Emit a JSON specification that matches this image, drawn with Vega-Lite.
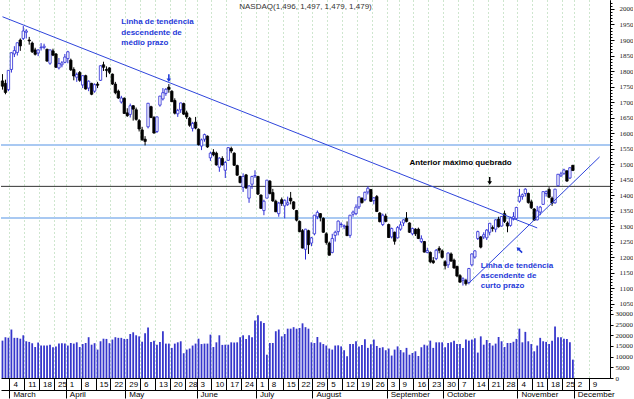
{
"$schema": "https://vega.github.io/schema/vega-lite/v6.json",
"width": 609, "height": 378, "padding": 0, "background": "white",
"config": {"view": {"stroke": null}, "font": "Liberation Sans", "axis": {"labelOverlap": false, "labelFlush": false, "labelSeparation": 0}},
"title": {"text": "NASDAQ(1,496, 1,497, 1,479, 1,479)", "fontSize": 8, "fontWeight": "normal", "color": "#333", "offset": -11, "anchor": "middle", "frame": "group"},
"datasets": {
"px": [
{"d":"2002-02-27","o":1768,"h":1790,"l":1740,"c":1751,"v":17500},
{"d":"2002-02-28","o":1760,"h":1772,"l":1725,"c":1731,"v":19100},
{"d":"2002-03-01","o":1740,"h":1803,"l":1735,"c":1802,"v":18800},
{"d":"2002-03-04","o":1805,"h":1860,"l":1795,"c":1859,"v":22700},
{"d":"2002-03-05","o":1855,"h":1880,"l":1845,"c":1866,"v":18800},
{"d":"2002-03-06","o":1860,"h":1892,"l":1850,"c":1891,"v":18800},
{"d":"2002-03-07","o":1900,"h":1905,"l":1865,"c":1881,"v":18400},
{"d":"2002-03-08","o":1905,"h":1945,"l":1900,"c":1929,"v":20000},
{"d":"2002-03-11","o":1925,"h":1935,"l":1905,"c":1929,"v":17200},
{"d":"2002-03-12","o":1900,"h":1910,"l":1885,"c":1897,"v":16900},
{"d":"2002-03-13","o":1890,"h":1895,"l":1858,"c":1862,"v":16300},
{"d":"2002-03-14","o":1868,"h":1875,"l":1850,"c":1854,"v":14500},
{"d":"2002-03-15","o":1858,"h":1870,"l":1848,"c":1868,"v":16600},
{"d":"2002-03-18","o":1875,"h":1890,"l":1866,"c":1877,"v":15200},
{"d":"2002-03-19","o":1876,"h":1888,"l":1870,"c":1880,"v":15200},
{"d":"2002-03-20","o":1870,"h":1872,"l":1830,"c":1832,"v":15200},
{"d":"2002-03-21","o":1825,"h":1870,"l":1820,"c":1868,"v":15600},
{"d":"2002-03-22","o":1865,"h":1872,"l":1848,"c":1851,"v":14400},
{"d":"2002-03-25","o":1855,"h":1858,"l":1810,"c":1812,"v":14800},
{"d":"2002-03-26","o":1810,"h":1842,"l":1805,"c":1824,"v":16100},
{"d":"2002-03-27","o":1820,"h":1832,"l":1812,"c":1826,"v":16300},
{"d":"2002-03-28","o":1828,"h":1855,"l":1825,"c":1845,"v":16100},
{"d":"2002-04-01","o":1840,"h":1865,"l":1825,"c":1862,"v":15200},
{"d":"2002-04-02","o":1835,"h":1840,"l":1800,"c":1804,"v":16400},
{"d":"2002-04-03","o":1805,"h":1812,"l":1770,"c":1784,"v":16100},
{"d":"2002-04-04","o":1780,"h":1795,"l":1765,"c":1789,"v":16700},
{"d":"2002-04-05","o":1795,"h":1800,"l":1765,"c":1770,"v":14500},
{"d":"2002-04-08","o":1755,"h":1786,"l":1745,"c":1785,"v":15900},
{"d":"2002-04-09","o":1785,"h":1788,"l":1740,"c":1742,"v":16400},
{"d":"2002-04-10","o":1745,"h":1770,"l":1735,"c":1767,"v":19100},
{"d":"2002-04-11","o":1760,"h":1762,"l":1722,"c":1725,"v":15600},
{"d":"2002-04-12","o":1735,"h":1760,"l":1730,"c":1756,"v":16300},
{"d":"2002-04-15","o":1758,"h":1765,"l":1745,"c":1754,"v":13300},
{"d":"2002-04-16","o":1770,"h":1818,"l":1768,"c":1817,"v":17200},
{"d":"2002-04-17","o":1820,"h":1830,"l":1800,"c":1812,"v":18400},
{"d":"2002-04-18","o":1805,"h":1815,"l":1780,"c":1802,"v":18300},
{"d":"2002-04-19","o":1810,"h":1812,"l":1790,"c":1796,"v":16300},
{"d":"2002-04-22","o":1790,"h":1792,"l":1755,"c":1758,"v":18000},
{"d":"2002-04-23","o":1758,"h":1765,"l":1725,"c":1730,"v":19100},
{"d":"2002-04-24","o":1735,"h":1740,"l":1710,"c":1713,"v":18800},
{"d":"2002-04-25","o":1700,"h":1720,"l":1695,"c":1713,"v":18800},
{"d":"2002-04-26","o":1712,"h":1715,"l":1662,"c":1663,"v":18300},
{"d":"2002-04-29","o":1665,"h":1680,"l":1652,"c":1656,"v":18300},
{"d":"2002-04-30","o":1660,"h":1695,"l":1650,"c":1688,"v":20600},
{"d":"2002-05-01","o":1688,"h":1690,"l":1640,"c":1677,"v":21400},
{"d":"2002-05-02","o":1675,"h":1682,"l":1640,"c":1644,"v":20000},
{"d":"2002-05-03","o":1640,"h":1645,"l":1605,"c":1613,"v":19500},
{"d":"2002-05-06","o":1610,"h":1620,"l":1575,"c":1578,"v":17000},
{"d":"2002-05-07","o":1580,"h":1590,"l":1560,"c":1573,"v":20900},
{"d":"2002-05-08","o":1620,"h":1697,"l":1615,"c":1696,"v":23600},
{"d":"2002-05-09","o":1685,"h":1688,"l":1648,"c":1650,"v":16900},
{"d":"2002-05-10","o":1650,"h":1655,"l":1598,"c":1600,"v":17500},
{"d":"2002-05-13","o":1605,"h":1653,"l":1600,"c":1652,"v":15600},
{"d":"2002-05-14","o":1690,"h":1720,"l":1685,"c":1719,"v":16900},
{"d":"2002-05-15","o":1710,"h":1745,"l":1705,"c":1730,"v":21900},
{"d":"2002-05-16","o":1728,"h":1745,"l":1720,"c":1741,"v":16100},
{"d":"2002-05-17","o":1748,"h":1758,"l":1730,"c":1741,"v":16100},
{"d":"2002-05-20","o":1735,"h":1738,"l":1700,"c":1701,"v":14100},
{"d":"2002-05-21","o":1705,"h":1712,"l":1660,"c":1664,"v":16100},
{"d":"2002-05-22","o":1662,"h":1678,"l":1652,"c":1673,"v":16700},
{"d":"2002-05-23","o":1675,"h":1698,"l":1665,"c":1697,"v":17200},
{"d":"2002-05-24","o":1695,"h":1698,"l":1658,"c":1661,"v":11600},
{"d":"2002-05-28","o":1665,"h":1672,"l":1645,"c":1652,"v":13300},
{"d":"2002-05-29","o":1648,"h":1652,"l":1620,"c":1625,"v":13800},
{"d":"2002-05-30","o":1615,"h":1636,"l":1605,"c":1631,"v":15200},
{"d":"2002-05-31","o":1635,"h":1652,"l":1612,"c":1616,"v":16100},
{"d":"2002-06-03","o":1612,"h":1615,"l":1560,"c":1562,"v":18400},
{"d":"2002-06-04","o":1558,"h":1582,"l":1545,"c":1578,"v":15900},
{"d":"2002-06-05","o":1580,"h":1598,"l":1572,"c":1595,"v":16100},
{"d":"2002-06-06","o":1590,"h":1592,"l":1552,"c":1555,"v":16100},
{"d":"2002-06-07","o":1520,"h":1540,"l":1510,"c":1535,"v":20300},
{"d":"2002-06-10","o":1538,"h":1548,"l":1525,"c":1530,"v":14500},
{"d":"2002-06-11","o":1535,"h":1540,"l":1495,"c":1497,"v":16700},
{"d":"2002-06-12","o":1490,"h":1522,"l":1475,"c":1519,"v":20000},
{"d":"2002-06-13","o":1518,"h":1525,"l":1495,"c":1497,"v":15500},
{"d":"2002-06-14","o":1480,"h":1510,"l":1455,"c":1505,"v":15600},
{"d":"2002-06-17","o":1512,"h":1554,"l":1510,"c":1553,"v":15600},
{"d":"2002-06-18","o":1550,"h":1556,"l":1535,"c":1542,"v":16700},
{"d":"2002-06-19","o":1535,"h":1538,"l":1494,"c":1496,"v":16600},
{"d":"2002-06-20","o":1495,"h":1498,"l":1462,"c":1464,"v":16700},
{"d":"2002-06-21","o":1460,"h":1462,"l":1438,"c":1440,"v":19100},
{"d":"2002-06-24","o":1425,"h":1470,"l":1410,"c":1460,"v":20000},
{"d":"2002-06-25","o":1465,"h":1468,"l":1420,"c":1423,"v":18300},
{"d":"2002-06-26","o":1390,"h":1432,"l":1375,"c":1429,"v":20000},
{"d":"2002-06-27","o":1435,"h":1462,"l":1420,"c":1460,"v":19100},
{"d":"2002-06-28","o":1462,"h":1480,"l":1455,"c":1463,"v":26900},
{"d":"2002-07-01","o":1460,"h":1462,"l":1400,"c":1403,"v":29400},
{"d":"2002-07-02","o":1400,"h":1402,"l":1355,"c":1357,"v":26600},
{"d":"2002-07-03","o":1350,"h":1385,"l":1335,"c":1380,"v":25800},
{"d":"2002-07-05","o":1390,"h":1449,"l":1390,"c":1448,"v":10900},
{"d":"2002-07-08","o":1445,"h":1448,"l":1402,"c":1405,"v":16400},
{"d":"2002-07-09","o":1408,"h":1420,"l":1378,"c":1381,"v":16400},
{"d":"2002-07-10","o":1380,"h":1385,"l":1345,"c":1346,"v":21900},
{"d":"2002-07-11","o":1340,"h":1378,"l":1330,"c":1374,"v":22700},
{"d":"2002-07-12","o":1385,"h":1392,"l":1365,"c":1373,"v":19500},
{"d":"2002-07-15","o":1365,"h":1386,"l":1325,"c":1383,"v":20600},
{"d":"2002-07-16","o":1370,"h":1395,"l":1365,"c":1375,"v":23100},
{"d":"2002-07-17","o":1390,"h":1410,"l":1370,"c":1381,"v":23100},
{"d":"2002-07-18","o":1378,"h":1380,"l":1352,"c":1356,"v":23800},
{"d":"2002-07-19","o":1350,"h":1352,"l":1315,"c":1319,"v":23100},
{"d":"2002-07-22","o":1315,"h":1318,"l":1280,"c":1282,"v":23400},
{"d":"2002-07-23","o":1285,"h":1290,"l":1228,"c":1229,"v":25600},
{"d":"2002-07-24","o":1225,"h":1291,"l":1192,"c":1290,"v":23800},
{"d":"2002-07-25","o":1285,"h":1288,"l":1210,"c":1240,"v":23100},
{"d":"2002-07-26","o":1245,"h":1265,"l":1235,"c":1262,"v":16700},
{"d":"2002-07-29","o":1275,"h":1336,"l":1270,"c":1335,"v":16400},
{"d":"2002-07-30","o":1330,"h":1350,"l":1322,"c":1344,"v":19200},
{"d":"2002-07-31","o":1340,"h":1342,"l":1315,"c":1328,"v":16700},
{"d":"2002-08-01","o":1325,"h":1328,"l":1278,"c":1280,"v":15900},
{"d":"2002-08-02","o":1275,"h":1280,"l":1240,"c":1247,"v":15200},
{"d":"2002-08-05","o":1245,"h":1250,"l":1205,"c":1206,"v":13800},
{"d":"2002-08-06","o":1215,"h":1275,"l":1212,"c":1260,"v":13300},
{"d":"2002-08-07","o":1270,"h":1285,"l":1250,"c":1280,"v":15200},
{"d":"2002-08-08","o":1282,"h":1318,"l":1270,"c":1316,"v":15300},
{"d":"2002-08-09","o":1305,"h":1312,"l":1295,"c":1306,"v":14800},
{"d":"2002-08-12","o":1298,"h":1305,"l":1290,"c":1301,"v":13000},
{"d":"2002-08-13","o":1300,"h":1315,"l":1268,"c":1269,"v":10200},
{"d":"2002-08-14","o":1270,"h":1336,"l":1262,"c":1335,"v":15900},
{"d":"2002-08-15","o":1338,"h":1350,"l":1330,"c":1345,"v":15900},
{"d":"2002-08-16","o":1340,"h":1370,"l":1335,"c":1361,"v":17200},
{"d":"2002-08-19","o":1362,"h":1395,"l":1355,"c":1394,"v":14800},
{"d":"2002-08-20","o":1390,"h":1392,"l":1372,"c":1376,"v":15500},
{"d":"2002-08-21","o":1385,"h":1411,"l":1380,"c":1409,"v":18100},
{"d":"2002-08-22","o":1410,"h":1428,"l":1402,"c":1422,"v":14100},
{"d":"2002-08-23","o":1418,"h":1418,"l":1378,"c":1380,"v":15800},
{"d":"2002-08-26","o":1382,"h":1393,"l":1370,"c":1391,"v":18000},
{"d":"2002-08-27","o":1395,"h":1400,"l":1345,"c":1347,"v":15000},
{"d":"2002-08-28","o":1342,"h":1345,"l":1312,"c":1314,"v":14100},
{"d":"2002-08-29","o":1305,"h":1340,"l":1300,"c":1335,"v":14400},
{"d":"2002-08-30","o":1332,"h":1340,"l":1312,"c":1315,"v":13000},
{"d":"2002-09-03","o":1305,"h":1308,"l":1262,"c":1263,"v":13800},
{"d":"2002-09-04","o":1265,"h":1295,"l":1260,"c":1292,"v":10500},
{"d":"2002-09-05","o":1280,"h":1282,"l":1240,"c":1251,"v":13300},
{"d":"2002-09-06","o":1262,"h":1300,"l":1260,"c":1295,"v":14800},
{"d":"2002-09-09","o":1290,"h":1315,"l":1285,"c":1304,"v":13100},
{"d":"2002-09-10","o":1310,"h":1322,"l":1300,"c":1320,"v":12000},
{"d":"2002-09-11","o":1325,"h":1345,"l":1312,"c":1315,"v":14100},
{"d":"2002-09-12","o":1310,"h":1312,"l":1278,"c":1280,"v":10900},
{"d":"2002-09-13","o":1275,"h":1295,"l":1270,"c":1292,"v":11700},
{"d":"2002-09-16","o":1290,"h":1293,"l":1268,"c":1275,"v":12500},
{"d":"2002-09-17","o":1290,"h":1295,"l":1258,"c":1260,"v":10300},
{"d":"2002-09-18","o":1250,"h":1270,"l":1245,"c":1259,"v":14400},
{"d":"2002-09-19","o":1250,"h":1252,"l":1215,"c":1216,"v":15600},
{"d":"2002-09-20","o":1215,"h":1230,"l":1212,"c":1221,"v":15200},
{"d":"2002-09-23","o":1215,"h":1218,"l":1180,"c":1185,"v":17500},
{"d":"2002-09-24","o":1188,"h":1200,"l":1178,"c":1182,"v":14100},
{"d":"2002-09-25","o":1195,"h":1226,"l":1190,"c":1222,"v":16700},
{"d":"2002-09-26","o":1228,"h":1235,"l":1212,"c":1222,"v":16700},
{"d":"2002-09-27","o":1220,"h":1225,"l":1195,"c":1199,"v":16700},
{"d":"2002-09-30","o":1185,"h":1190,"l":1160,"c":1172,"v":14400},
{"d":"2002-10-01","o":1175,"h":1215,"l":1165,"c":1213,"v":16400},
{"d":"2002-10-02","o":1210,"h":1215,"l":1185,"c":1187,"v":16700},
{"d":"2002-10-03","o":1190,"h":1195,"l":1162,"c":1165,"v":17500},
{"d":"2002-10-04","o":1170,"h":1172,"l":1135,"c":1139,"v":15900},
{"d":"2002-10-07","o":1140,"h":1145,"l":1118,"c":1119,"v":15900},
{"d":"2002-10-08","o":1125,"h":1135,"l":1108,"c":1130,"v":14100},
{"d":"2002-10-09","o":1125,"h":1130,"l":1108,"c":1114,"v":18000},
{"d":"2002-10-10","o":1118,"h":1165,"l":1112,"c":1163,"v":17500},
{"d":"2002-10-11","o":1175,"h":1212,"l":1170,"c":1210,"v":18000},
{"d":"2002-10-14","o":1200,"h":1222,"l":1195,"c":1220,"v":18600},
{"d":"2002-10-15","o":1260,"h":1285,"l":1255,"c":1282,"v":11900},
{"d":"2002-10-16","o":1265,"h":1268,"l":1228,"c":1232,"v":19500},
{"d":"2002-10-17","o":1265,"h":1280,"l":1258,"c":1272,"v":15600},
{"d":"2002-10-18","o":1262,"h":1290,"l":1255,"c":1287,"v":17800},
{"d":"2002-10-21","o":1280,"h":1310,"l":1270,"c":1309,"v":16400},
{"d":"2002-10-22","o":1295,"h":1302,"l":1282,"c":1292,"v":15200},
{"d":"2002-10-23","o":1290,"h":1322,"l":1280,"c":1320,"v":16100},
{"d":"2002-10-24","o":1322,"h":1330,"l":1295,"c":1298,"v":19200},
{"d":"2002-10-25","o":1300,"h":1332,"l":1298,"c":1331,"v":17200},
{"d":"2002-10-28","o":1340,"h":1350,"l":1310,"c":1315,"v":14500},
{"d":"2002-10-29","o":1310,"h":1315,"l":1280,"c":1300,"v":16400},
{"d":"2002-10-30","o":1302,"h":1330,"l":1298,"c":1326,"v":16400},
{"d":"2002-10-31","o":1322,"h":1345,"l":1318,"c":1330,"v":17000},
{"d":"2002-11-01","o":1325,"h":1362,"l":1320,"c":1360,"v":18300},
{"d":"2002-11-04","o":1380,"h":1420,"l":1375,"c":1396,"v":23100},
{"d":"2002-11-05","o":1395,"h":1405,"l":1385,"c":1401,"v":16700},
{"d":"2002-11-06","o":1405,"h":1422,"l":1395,"c":1419,"v":21600},
{"d":"2002-11-07","o":1405,"h":1408,"l":1372,"c":1376,"v":17200},
{"d":"2002-11-08","o":1378,"h":1385,"l":1355,"c":1359,"v":15900},
{"d":"2002-11-11","o":1355,"h":1358,"l":1318,"c":1319,"v":12500},
{"d":"2002-11-12","o":1320,"h":1365,"l":1318,"c":1349,"v":15200},
{"d":"2002-11-13","o":1345,"h":1365,"l":1335,"c":1361,"v":18800},
{"d":"2002-11-14","o":1370,"h":1412,"l":1368,"c":1411,"v":17200},
{"d":"2002-11-15","o":1405,"h":1415,"l":1395,"c":1411,"v":16900},
{"d":"2002-11-18","o":1418,"h":1425,"l":1390,"c":1393,"v":15900},
{"d":"2002-11-19","o":1390,"h":1395,"l":1365,"c":1374,"v":17500},
{"d":"2002-11-20","o":1375,"h":1420,"l":1372,"c":1419,"v":24100},
{"d":"2002-11-21","o":1430,"h":1468,"l":1428,"c":1467,"v":19100},
{"d":"2002-11-22","o":1462,"h":1475,"l":1458,"c":1468,"v":19100},
{"d":"2002-11-25","o":1470,"h":1485,"l":1465,"c":1481,"v":18400},
{"d":"2002-11-26","o":1478,"h":1480,"l":1443,"c":1445,"v":18300},
{"d":"2002-11-27","o":1455,"h":1490,"l":1452,"c":1488,"v":16700},
{"d":"2002-11-29","o":1496,"h":1497,"l":1479,"c":1479,"v":8600}
],
"levels": [{"p":1561,"t":"resistance"},{"p":1428,"t":"previous high"},{"p":1326,"t":"support"}],
"trend": [
{"id":"desc","d":"2002-02-27","p":1975},{"id":"desc","d":"2002-11-12","p":1294},
{"id":"asc","d":"2002-10-10","p":1116},{"id":"asc","d":"2002-12-12","p":1523}
],
"blueText": [
{"d":"2002-04-25","p":1959,"t":"Linha de tendência"},
{"d":"2002-04-25","p":1923,"t":"descendente de"},
{"d":"2002-04-25","p":1889,"t":"médio prazo"},
{"d":"2002-10-16","p":1171,"t":"Linha de tendência"},
{"d":"2002-10-16","p":1139,"t":"ascendente de"},
{"d":"2002-10-16","p":1107,"t":"curto prazo"}
],
"blackText": [{"d":"2002-09-12","p":1504,"t":"Anterior máximo quebrado"}]
},
"layer": [
{"layer": [
 {"data": {"name": "levels"}, "mark": {"type": "rule"},
  "encoding": {
   "y": {"field": "p", "type": "quantitative", "scale": {"domain": [810, 2029]},
    "axis": {"orient": "right", "values": [1050,1100,1150,1200,1250,1300,1350,1400,1450,1500,1550,1600,1650,1700,1750,1800,1850,1900,1950,2000], "tickCount": 200, "format": "d", "title": null, "grid": false, "tickSize": 4, "tickColor": "#000", "domainColor": "#000", "labelPadding": 5, "labelFontSize": 7, "labelColor": "#222", "labelFont": "Liberation Sans Narrow", "labelOverlap": false, "labelFlush": false}},
   "color": {"condition": {"test": "datum.t === 'previous high'", "value": "#333333"}, "value": "#a9c9f2"},
   "strokeWidth": {"condition": {"test": "datum.t === 'previous high'", "value": 1}, "value": 2}
  }},
 {"data": {"name": "px"}, "mark": {"type": "rule", "strokeWidth": 1},
  "encoding": {
   "x": {"field": "d", "type": "ordinal", "scale": {"type": "band", "paddingInner": 0, "paddingOuter": 0, "domain": {"unionWith": ["2002-12-02","2002-12-03","2002-12-04","2002-12-05","2002-12-06","2002-12-09","2002-12-10","2002-12-11","2002-12-12","2002-12-13","2002-12-16","2002-12-17"]}},
    "axis": {"orient": "bottom", "offset": 12, "values": ["2002-03-04","2002-04-01","2002-04-29","2002-06-03","2002-07-01","2002-07-29","2002-09-03","2002-09-30","2002-11-04","2002-12-02"], "bandPosition": 0, "labelExpr": "utcFormat(time(toDate(datum.value)) + 6*86400000, '%B')", "title": null, "grid": false, "tickSize": 8, "tickColor": "#000", "domainColor": "#000", "labelAngle": 0, "labelAlign": "left", "labelBaseline": "top", "labelPadding": -8, "labelOffset": 2, "labelFontSize": 8, "labelColor": "#000", "labelFlush": false, "labelOverlap": false}},
   "y": {"field": "l", "type": "quantitative", "scale": {"domain": [810, 2029]}},
   "y2": {"field": "h"},
   "color": {"condition": {"test": "datum.c >= datum.o", "value": "#2b2bd6"}, "value": "#000000"}
  }},
 {"data": {"name": "px"}, "mark": {"type": "bar", "width": {"band": 0.8}, "strokeWidth": 0.8},
  "encoding": {
   "x": {"field": "d", "type": "ordinal"},
   "y": {"field": "o", "type": "quantitative", "scale": {"domain": [810, 2029]}},
   "y2": {"field": "c"},
   "fill": {"condition": {"test": "datum.c >= datum.o", "value": "#ffffff"}, "value": "#000000"},
   "stroke": {"condition": {"test": "datum.c >= datum.o", "value": "#2b2bd6"}, "value": "#000000"}
  }},
 {"data": {"name": "trend"}, "mark": {"type": "line", "color": "#2f45dc", "strokeWidth": 1},
  "encoding": {
   "x": {"field": "d", "type": "ordinal"},
   "y": {"field": "p", "type": "quantitative", "scale": {"domain": [810, 2029]}},
   "detail": {"field": "id"}
  }},
 {"data": {"name": "blueText"}, "mark": {"type": "text", "align": "left", "baseline": "middle", "fontWeight": "bold", "fontSize": 8, "color": "#1f3ad8"},
  "encoding": {
   "x": {"field": "d", "type": "ordinal"},
   "y": {"field": "p", "type": "quantitative", "scale": {"domain": [810, 2029]}},
   "text": {"field": "t"}
  }},
 {"data": {"name": "blackText"}, "mark": {"type": "text", "align": "left", "baseline": "middle", "fontWeight": "bold", "fontSize": 8, "color": "#000"},
  "encoding": {
   "x": {"field": "d", "type": "ordinal"},
   "y": {"field": "p", "type": "quantitative", "scale": {"domain": [810, 2029]}},
   "text": {"field": "t"}
  }},
 {"data": {"values": [{"d": "2002-05-17", "p": 1777}]}, "mark": {"type": "point", "shape": "M-0.2,-1L0.2,-1L0.2,0.1L0.6,0.1L0,1L-0.6,0.1L-0.2,0.1Z", "size": 60, "filled": true, "color": "#1f3ad8", "opacity": 1},
  "encoding": {"x": {"field": "d", "type": "ordinal"}, "y": {"field": "p", "type": "quantitative", "scale": {"domain": [810, 2029]}}}},
 {"data": {"values": [{"d": "2002-10-21", "p": 1446}]}, "mark": {"type": "point", "shape": "M-0.2,-1L0.2,-1L0.2,0.1L0.6,0.1L0,1L-0.6,0.1L-0.2,0.1Z", "size": 60, "filled": true, "color": "#000", "opacity": 1},
  "encoding": {"x": {"field": "d", "type": "ordinal"}, "y": {"field": "p", "type": "quantitative", "scale": {"domain": [810, 2029]}}}},
 {"data": {"values": [{"d": "2002-11-04", "p": 1223}]}, "mark": {"type": "point", "shape": "M-0.2,-1L0.2,-1L0.2,0.1L0.6,0.1L0,1L-0.6,0.1L-0.2,0.1Z", "size": 60, "filled": true, "color": "#1f3ad8", "opacity": 1, "angle": 135},
  "encoding": {"x": {"field": "d", "type": "ordinal"}, "y": {"field": "p", "type": "quantitative", "scale": {"domain": [810, 2029]}}}}
 ]},
{"data": {"name": "levels"}, "mark": {"type": "rule", "opacity": 0},
 "encoding": {
  "y": {"field": "p", "type": "quantitative", "scale": {"domain": [810, 2029]},
   "axis": {"orient": "right", "values": [1030,1040,1060,1070,1080,1090,1110,1120,1130,1140,1160,1170,1180,1190,1210,1220,1230,1240,1260,1270,1280,1290,1310,1320,1330,1340,1360,1370,1380,1390,1410,1420,1430,1440,1460,1470,1480,1490,1510,1520,1530,1540,1560,1570,1580,1590,1610,1620,1630,1640,1660,1670,1680,1690,1710,1720,1730,1740,1760,1770,1780,1790,1810,1820,1830,1840,1860,1870,1880,1890,1910,1920,1930,1940,1960,1970,1980,1990,2010,2020], "tickCount": 500, "labels": false, "domain": false, "title": null, "grid": false, "tickSize": 2, "tickColor": "#000"}}
 }},
{"data": {"name": "px"}, "mark": {"type": "bar", "width": {"band": 0.6}, "color": "#3636cc"},
 "encoding": {
  "x": {"field": "d", "type": "ordinal", "scale": {"type": "band", "paddingInner": 0, "paddingOuter": 0},
   "axis": {"orient": "bottom", "values": ["2002-03-04","2002-03-11","2002-03-18","2002-03-25","2002-04-01","2002-04-08","2002-04-15","2002-04-22","2002-04-29","2002-05-06","2002-05-13","2002-05-20","2002-05-28","2002-06-03","2002-06-10","2002-06-17","2002-06-24","2002-07-01","2002-07-08","2002-07-15","2002-07-22","2002-07-29","2002-08-05","2002-08-12","2002-08-19","2002-08-26","2002-09-03","2002-09-09","2002-09-16","2002-09-23","2002-09-30","2002-10-07","2002-10-14","2002-10-21","2002-10-28","2002-11-04","2002-11-11","2002-11-18","2002-11-25","2002-12-02","2002-12-09"], "bandPosition": 0, "labelExpr": "parseInt(substring(datum.value, 8, 10))", "title": null, "grid": true, "gridColor": "#9ccc9c", "gridDash": [1, 3], "tickSize": 12, "tickColor": "#000", "domainColor": "#000", "labelAngle": 0, "labelAlign": "left", "labelBaseline": "top", "labelPadding": -10, "labelOffset": 2, "labelFontSize": 8, "labelColor": "#000", "labelFlush": false, "labelOverlap": false}},
  "y": {"field": "v", "type": "quantitative", "scale": {"domain": [0, 177000]},
   "axis": {"orient": "right", "values": [0,5000,10000,15000,20000,25000,30000], "tickCount": 50, "format": "d", "title": null, "grid": false, "tickSize": 3, "tickColor": "#000", "domainColor": "#000", "labelPadding": 2, "labelFontSize": 7, "labelColor": "#222", "labelFont": "Liberation Sans Narrow", "labelOverlap": false, "labelFlush": false}}
 }}
],
"resolve": {"scale": {"y": "independent"}, "axis": {"y": "independent", "x": "independent"}}
}
